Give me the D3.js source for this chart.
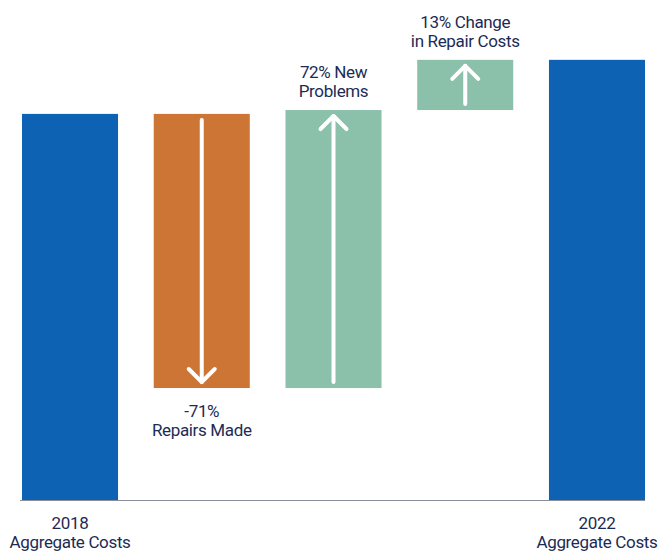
<!DOCTYPE html>
<html>
<head>
<meta charset="utf-8">
<script src="https://cdn.jsdelivr.net/npm/d3@7"></script>
<style>
  body { margin: 0; background: #fff; }
  text { font-family: Roboto, 'Noto Sans', sans-serif; fill: #1c2b55; letter-spacing: -0.35px; }
</style>
</head>
<body>
<div class="chart-container"></div>
<script>
// data
const steps = ['2018', 'repairs', 'new', 'change', '2022'];
const changes = [100, -71, 72, 13, 114]; // first and last are totals
const kinds = ['total', 'down', 'up', 'up', 'total'];
const labelLines = [
    ['2018', 'Aggregate Costs'],
    ['-71%', 'Repairs Made'],
    ['72% New', 'Problems'],
    ['13% Change', 'in Repair Costs'],
    ['2022', 'Aggregate Costs']
];

const colors = { total: '#0d62b4', down: '#cd7535', up: '#8bc1aa' };

// build start / end of each bar
function buildWaterfall() {
    let running = 0;
    return steps.map((s, i) => {
        let start, end;
        if (kinds[i] === 'total') {
            start = 0;
            end = changes[i];
            running = changes[i];
        } else {
            start = running;
            end = running + changes[i];
            running = end;
        }
        return { step: s, start, end, kind: kinds[i], lines: labelLines[i] };
    });
}

function ready() {
    const data = buildWaterfall();
    const width = 658;
    const height = 552;
    const baseY = 500;

    const xScale = d3.scaleBand()
        .domain(steps)
        .range([22, 645])
        .paddingInner(0.271)
        .paddingOuter(0);

    const yScale = d3.scaleLinear()
        .domain([0, 129.5])
        .range([baseY, 0]);

    const svg = d3.select('.chart-container')
        .append('svg')
        .attr('width', width)
        .attr('height', height);

    // bars
    svg.append('g')
        .selectAll('rect')
        .data(data)
        .enter()
        .append('rect')
            .attr('x', d => xScale(d.step))
            .attr('y', d => yScale(Math.max(d.start, d.end)))
            .attr('width', xScale.bandwidth())
            .attr('height', d => Math.abs(yScale(d.start) - yScale(d.end)))
            .style('fill', d => colors[d.kind]);

    // baseline
    svg.append('line')
        .attr('x1', 20)
        .attr('x2', 645)
        .attr('y1', baseY + 0.5)
        .attr('y2', baseY + 0.5)
        .style('stroke', '#8a8f9c')
        .style('stroke-width', 1.2);

    // arrows on the change bars
    const arrows = svg.append('g')
        .selectAll('.arrow')
        .data(data.filter(d => d.kind !== 'total'))
        .enter()
        .append('g')
        .attr('class', 'arrow');

    const inset = 6;
    const head = 13;
    arrows.append('line')
        .attr('x1', d => xScale(d.step) + xScale.bandwidth() / 2)
        .attr('x2', d => xScale(d.step) + xScale.bandwidth() / 2)
        .attr('y1', d => d.kind === 'down' ? yScale(d.start) + inset : yScale(d.start) - inset)
        .attr('y2', d => d.kind === 'down' ? yScale(d.end) - inset : yScale(d.end) + inset)
        .style('stroke', '#fff')
        .style('stroke-width', 4)
        .style('stroke-linecap', 'round');

    arrows.append('path')
        .attr('d', d => {
            const cx = xScale(d.step) + xScale.bandwidth() / 2;
            if (d.kind === 'down') {
                const tip = yScale(d.end) - inset;
                return `M${cx - head},${tip - head}L${cx},${tip}L${cx + head},${tip - head}`;
            }
            const tip = yScale(d.end) + inset;
            return `M${cx - head},${tip + head}L${cx},${tip}L${cx + head},${tip + head}`;
        })
        .style('fill', 'none')
        .style('stroke', '#fff')
        .style('stroke-width', 4)
        .style('stroke-linecap', 'round')
        .style('stroke-linejoin', 'round');

    // labels
    const labels = svg.append('g')
        .selectAll('text')
        .data(data)
        .enter()
        .append('text')
            .attr('text-anchor', 'middle')
            .style('font-size', '17px')
            .attr('transform', d => {
                const cx = xScale(d.step) + xScale.bandwidth() / 2;
                let y;
                if (d.kind === 'total') y = baseY + 29;
                else if (d.kind === 'down') y = yScale(d.end) + 29;
                else y = yScale(d.end) - 32;
                return `translate(${cx}, ${y})`;
            });

    labels.selectAll('tspan')
        .data(d => d.lines)
        .enter()
        .append('tspan')
            .attr('x', 0)
            .attr('dy', (d, i) => i === 0 ? 0 : 19)
            .text(d => d);
}

ready();
</script>
</body>
</html>
